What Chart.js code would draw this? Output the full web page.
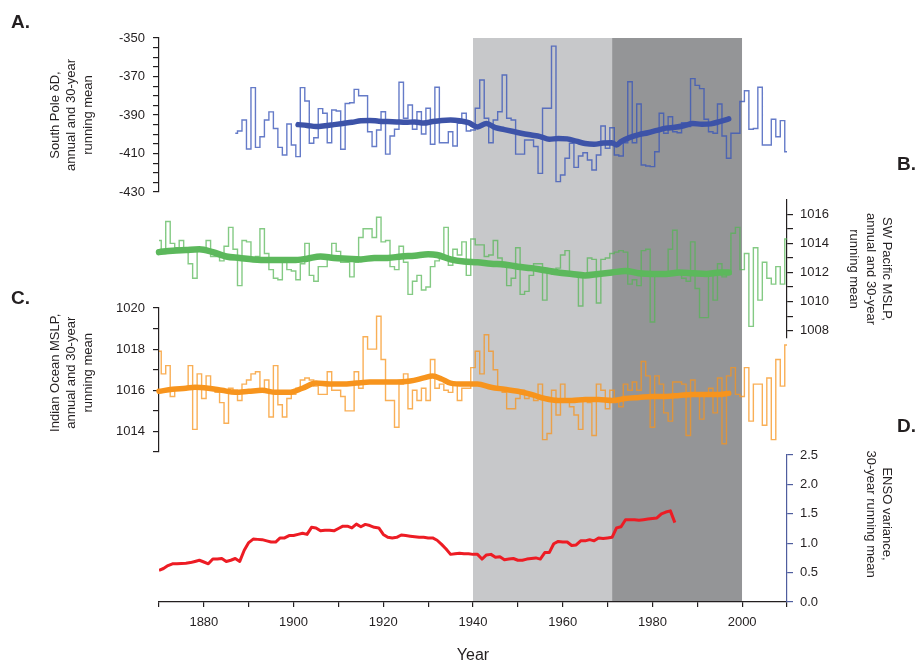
<!DOCTYPE html>
<html><head><meta charset="utf-8">
<script src="https://cdn.jsdelivr.net/npm/chart.js@4.4.1/dist/chart.umd.min.js"></script>
<style>
html,body{margin:0;padding:0;background:#fff;}
#wrap{position:relative;width:915px;height:668px;overflow:hidden;font-family:"Liberation Sans",Arial,sans-serif;}
canvas{position:absolute;left:0;top:0;}
.lbl{position:absolute;font-weight:bold;font-size:19px;line-height:19px;color:#231f20;font-family:"Liberation Sans",Arial,sans-serif;}
</style></head><body>
<div id="wrap">
<canvas id="cShade" width="915" height="668"></canvas>
<canvas id="cD" width="915" height="668"></canvas>
<canvas id="cC" width="915" height="668"></canvas>
<canvas id="cB" width="915" height="668"></canvas>
<canvas id="cA" width="915" height="668"></canvas>
<div class="lbl" style="left:11px;top:12px">A.</div>
<div class="lbl" style="left:897px;top:154px">B.</div>
<div class="lbl" style="left:11px;top:288px">C.</div>
<div class="lbl" style="left:897px;top:416px">D.</div>
</div>
<script>
// ---------- data ----------
const yearRange = [1870, 2010];
const shadeLight = [1940, 1971];
const shadeDark = [1971, 2000];

// A. South Pole dD, annual (from 1887)
const aStartYear = 1887;
const aAnnual = [-399.5,-398.3,-392.6,-407.7,-375.8,-406.8,-401.3,-392.6,-388.4,-397.0,
 -406.8,-410.8,-394.7,-405.6,-411.6,-375.8,-382.7,-404.7,-401.8,-386.7,
 -389.1,-404.4,-387.4,-387.9,-407.8,-384.0,-383.6,-376.7,-380.0,-380.0,
 -398.7,-406.4,-397.8,-388.3,-410.3,-400.9,-397.4,-373.0,-391.7,-384.8,
 -397.4,-388.3,-399.9,-386.5,-405.2,-375.6,-404.4,-404.4,-398.7,-406.1,
 -394.3,-389.1,-398.3,-397.8,-386.5,-371.8,-391.7,-404.4,-392.6,-388.3,
 -369.2,-391.7,-392.6,-410.3,-410.3,-403.0,-403.0,-406.4,-420.3,-386.5,
 -386.5,-354.2,-424.6,-421.2,-412.5,-404.7,-417.2,-411.3,-409.6,-413.4,
 -418.6,-410.8,-395.7,-407.3,-396.6,-410.8,-411.3,-404.4,-372.7,-404.4,
 -384.3,-416.0,-416.5,-416.8,-409.1,-389.1,-399.5,-390.9,-398.7,-399.2,
 -394.0,-396.0,-371.1,-374.6,-376.3,-392.2,-398.7,-399.5,-384.3,-400.9,
 -412.5,-399.5,-399.5,-383.0,-377.4,-397.4,-397.0,-375.6,-405.6,-405.6,
 -392.2,-401.3,-392.9,-409.1];
const aMeanYears = [1901,1903,1905,1907,1909,1911,1913,1915,1917,1919,1921,1923,1925,1927,1929,1931,1933,1935,1937,1939,1941,1943,1945,1947,1949,1951,1953,1955,1957,1959,1961,1963,1965,1967,1969,1971,1972,1973,1975,1977,1979,1981,1983,1985,1987,1989,1991,1993,1995,1997];
const aMean = [-395.0,-395.4,-396.0,-395.6,-395.0,-394.4,-393.8,-393.0,-392.8,-393.2,-393.4,-393.6,-393.8,-393.6,-394.2,-393.4,-392.8,-392.6,-393.0,-394.0,-396.2,-394.4,-396.6,-397.6,-398.6,-399.6,-400.4,-401.2,-402.6,-402.2,-402.4,-403.6,-404.8,-405.2,-404.6,-404.4,-405.6,-403.8,-401.6,-400.2,-399.2,-398.0,-396.8,-396.4,-395.6,-394.4,-394.8,-394.6,-393.4,-392.0];

// B. SW Pacific MSLP, annual (from 1870)
const bStartYear = 1870;
const bAnnual = [1014.2,1013.3,1015.5,1014.0,1013.7,1014.2,1013.4,1012.6,1011.6,1013.6,
 1013.6,1014.2,1013.1,1013.1,1012.8,1013.8,1015.1,1013.6,1011.1,1014.2,
 1014.1,1013.0,1013.1,1015.0,1013.3,1012.2,1011.6,1011.5,1012.7,1012.2,
 1012.1,1011.5,1012.6,1014.0,1011.8,1011.4,1012.4,1012.4,1013.0,1014.0,
 1013.45,1012.7,1012.7,1011.7,1012.7,1014.4,1015.0,1015.0,1014.4,1015.8,
 1014.1,1014.2,1012.4,1012.2,1013.8,1012.7,1010.5,1011.4,1011.8,1010.8,
 1011.0,1012.4,1012.8,1013.1,1015.1,1012.5,1013.6,1013.2,1014.1,1011.8,
 1014.3,1013.9,1013.9,1013.1,1013.2,1014.2,1013.0,1012.4,1011.1,1011.6,
 1013.7,1010.5,1010.7,1011.8,1012.6,1012.6,1010.1,1012.1,1011.9,1012.3,
 1013.2,1013.5,1011.9,1011.8,1009.7,1011.9,1013.0,1012.9,1009.9,1012.9,
 1013.0,1013.3,1013.4,1013.5,1013.4,1011.2,1011.5,1011.1,1013.5,1013.6,
 1008.6,1011.9,1011.9,1012.0,1013.6,1014.9,1011.9,1011.6,1011.4,1014.1,
 1010.9,1008.9,1008.9,1011.9,1010.1,1012.6,1011.7,1011.9,1014.7,1015.1,
 1012.2,1013.3,1008.3,1013.7,1010.1,1012.7,1011.6,1011.2,1012.4,1011.2,
 1014.3];
const bMeanYears = [1870,1873,1876,1879,1882,1885,1888,1891,1894,1897,1900,1903,1906,1909,1912,1915,1918,1921,1924,1927,1930,1932,1935,1938,1941,1944,1947,1950,1953,1956,1959,1962,1965,1968,1971,1974,1977,1980,1983,1986,1989,1992,1995,1997];
const bMean = [1013.4,1013.5,1013.55,1013.6,1013.4,1013.1,1013.0,1012.9,1012.85,1012.85,1012.85,1012.95,1013.1,1013.0,1012.95,1012.9,1013.0,1013.0,1013.1,1013.15,1013.25,1013.2,1012.9,1012.75,1012.7,1012.6,1012.55,1012.4,1012.3,1012.15,1012.0,1011.9,1011.8,1011.9,1012.0,1012.1,1011.95,1011.9,1011.9,1012.0,1011.95,1011.9,1012.0,1012.0];

// C. Indian Ocean MSLP, annual (from 1870)
const cStartYear = 1870;
const cAnnual = [1017.9,1016.8,1017.2,1015.7,1016.1,1016.1,1016.1,1017.2,1014.1,1016.8,
 1015.6,1016.7,1016.1,1015.9,1015.4,1014.4,1016.1,1016.0,1015.5,1016.3,
 1016.5,1016.8,1016.9,1016.0,1016.5,1014.7,1017.2,1015.3,1014.7,1015.6,
 1015.8,1016.1,1016.5,1016.6,1016.5,1016.2,1015.8,1015.8,1016.9,1016.0,
 1016.0,1015.7,1015.0,1015.0,1016.9,1016.1,1018.6,1018.0,1018.0,1019.6,
 1017.5,1015.5,1015.5,1014.2,1016.3,1016.8,1015.1,1016.0,1015.5,1016.1,
 1015.5,1017.5,1016.1,1016.3,1016.0,1015.9,1016.3,1015.5,1016.1,1016.1,
 1017.1,1017.9,1016.8,1018.7,1017.9,1017.0,1016.0,1015.9,1015.1,1015.1,
 1015.6,1016.0,1015.6,1015.7,1015.5,1016.3,1013.6,1013.9,1016.0,1014.8,
 1016.3,1015.5,1015.2,1014.8,1014.1,1015.5,1015.4,1013.8,1016.3,1016.0,
 1015.1,1016.0,1015.5,1015.2,1016.3,1016.0,1016.4,1016.0,1017.4,1016.7,
 1014.2,1016.7,1016.3,1014.9,1014.5,1016.4,1016.4,1016.3,1013.8,1016.5,
 1015.8,1014.6,1015.8,1016.1,1014.9,1016.6,1013.4,1016.7,1017.1,1015.8,
 1015.7,1017.1,1014.5,1016.3,1016.3,1014.3,1016.6,1013.6,1017.5,1016.2,
 1018.2];
const cMeanYears = [1870,1873,1876,1878,1881,1884,1887,1890,1893,1896,1899,1902,1905,1908,1911,1914,1917,1920,1923,1926,1929,1931,1933,1935,1938,1941,1944,1947,1950,1953,1956,1959,1962,1965,1968,1971,1974,1977,1980,1983,1986,1989,1992,1995,1997];
const cMean = [1015.95,1016.05,1016.1,1016.15,1016.1,1016.0,1015.9,1015.95,1016.0,1015.9,1015.9,1016.1,1016.35,1016.3,1016.3,1016.35,1016.4,1016.4,1016.4,1016.45,1016.6,1016.7,1016.55,1016.35,1016.3,1016.3,1016.15,1016.05,1015.95,1015.8,1015.6,1015.5,1015.5,1015.55,1015.55,1015.5,1015.6,1015.65,1015.7,1015.7,1015.75,1015.8,1015.8,1015.8,1015.85];

// D. ENSO variance, 30-year running mean (from 1870)
const dStartYear = 1870;
const dVar = [0.54,0.57,0.62,0.65,0.65,0.655,0.66,0.67,0.69,0.71,
 0.68,0.65,0.73,0.73,0.74,0.69,0.71,0.74,0.69,0.88,
 1.01,1.07,1.065,1.06,1.04,1.02,1.02,1.09,1.09,1.13,
 1.13,1.15,1.17,1.15,1.27,1.26,1.21,1.22,1.22,1.21,
 1.25,1.29,1.29,1.26,1.325,1.28,1.32,1.30,1.27,1.26,
 1.15,1.10,1.09,1.10,1.14,1.13,1.12,1.11,1.10,1.10,
 1.09,1.09,1.05,0.98,0.90,0.81,0.82,0.83,0.82,0.82,
 0.81,0.81,0.73,0.80,0.81,0.76,0.77,0.72,0.73,0.74,
 0.71,0.71,0.73,0.74,0.75,0.73,0.84,0.84,0.99,1.03,
 1.02,1.02,0.96,0.97,1.04,1.04,1.06,1.04,1.09,1.08,
 1.09,1.10,1.26,1.28,1.40,1.40,1.40,1.39,1.40,1.41,
 1.42,1.43,1.50,1.53,1.55,1.35];

// ---------- helpers ----------
const FONT = '"Liberation Sans", Arial, Helvetica, sans-serif';
const INK = '#231f20';
const W = 915, H = 668, AREA_L = 159, AREA_R = 787;
const series = (start, vals) => vals.map((v, i) => ({x: start + i, y: v}));
const pairs = (xs, ys) => xs.map((x, i) => ({x: x, y: ys[i]}));

function xHidden() {
  return {type: 'linear', min: yearRange[0], max: yearRange[1], display: false};
}
function yAxis(side, cfg) {
  return {
    type: 'linear', position: side, min: cfg.min, max: cfg.max,
    border: {display: true, color: cfg.axisColor || INK, width: 1.2},
    grid: {display: true, drawOnChartArea: false, drawTicks: true, tickLength: 6, color: cfg.axisColor || INK, lineWidth: 1.2},
    ticks: {stepSize: cfg.step, includeBounds: false, padding: side === 'left' ? 8 : 7, color: INK,
      font: {family: FONT, size: 13}, callback: cfg.label, autoSkip: false, maxRotation: 0},
    title: {display: true, text: cfg.title, color: INK, font: {family: FONT, size: 13, lineHeight: 1.3},
      padding: {top: side === 'left' ? 46.5 : 19.5, bottom: 0}},
    afterFit: s => { s.width = side === 'left' ? AREA_L : (W - AREA_R); s.paddingTop = 0; s.paddingBottom = 0; }
  };
}
function pad(side, top, bottom) {
  return side === 'left'
    ? {left: 0, right: W - AREA_R, top: top, bottom: H - bottom}
    : {left: AREA_L, right: 0, top: top, bottom: H - bottom};
}
const base = {responsive: false, animation: false, devicePixelRatio: 1, events: [],
  plugins: {legend: {display: false}, tooltip: {enabled: false}}};

function stepDs(data, color) {
  return {data: data, borderColor: color, borderWidth: 1.4, pointRadius: 0, stepped: 'middle', fill: false, clip: 8};
}
function meanDs(data, color, w) {
  return {data: data, borderColor: color, borderWidth: w, pointRadius: 0, tension: 0.4,
    cubicInterpolationMode: 'monotone', borderCapStyle: 'round', borderJoinStyle: 'round', fill: false, clip: 8};
}

// ---------- shading ----------
new Chart(document.getElementById('cShade'), {
  type: 'line',
  data: {datasets: [
    {data: [{x: shadeLight[0], y: 1}, {x: shadeLight[1], y: 1}], backgroundColor: '#c7c8ca', borderWidth: 0, pointRadius: 0, fill: 'origin'},
    {data: [{x: shadeDark[0], y: 1}, {x: shadeDark[1], y: 1}], backgroundColor: '#949597', borderWidth: 0, pointRadius: 0, fill: 'origin'}
  ]},
  options: Object.assign({}, base, {
    layout: {padding: {left: AREA_L, right: W - AREA_R, top: 38, bottom: H - 602}},
    scales: {x: xHidden(), y: {type: 'linear', min: 0, max: 1, display: false}}
  })
});

// ---------- A ----------
new Chart(document.getElementById('cA'), {
  type: 'line',
  data: {datasets: [
    meanDs(pairs(aMeanYears, aMean), '#3d53a8', 5.5),
    stepDs(series(aStartYear, aAnnual), 'rgba(58,86,184,0.78)')
  ]},
  options: Object.assign({}, base, {
    layout: {padding: pad('left', 38, 192)},
    scales: {x: xHidden(), y: yAxis('left', {min: -430, max: -350, step: 5,
      label: v => (Math.round(v) % 20 === -10 ? String(Math.round(v)) : ''),
      title: ['South Pole \u03b4D,', 'annual and 30-year', 'running mean']})}
  })
});

// ---------- B ----------
new Chart(document.getElementById('cB'), {
  type: 'line',
  data: {datasets: [
    meanDs(pairs(bMeanYears, bMean), '#5cb85c', 6.5),
    stepDs(series(bStartYear, bAnnual), 'rgba(84,182,84,0.72)')
  ]},
  options: Object.assign({}, base, {
    layout: {padding: pad('right', 200, 338)},
    scales: {x: xHidden(), y: yAxis('right', {min: 1007.5, max: 1016.98, step: 1,
      label: v => (Math.round(v) % 2 === 0 ? String(Math.round(v)) : ''),
      title: ['SW Pacific MSLP,', 'annual and 30-year', 'running mean']})}
  })
});

// ---------- C ----------
new Chart(document.getElementById('cC'), {
  type: 'line',
  data: {datasets: [
    meanDs(pairs(cMeanYears, cMean), '#f7941d', 5.5),
    stepDs(series(cStartYear, cAnnual), 'rgba(247,148,29,0.75)')
  ]},
  options: Object.assign({}, base, {
    layout: {padding: pad('left', 308, 452)},
    scales: {x: xHidden(), y: yAxis('left', {min: 1013, max: 1020, step: 1,
      label: v => (Math.round(v) % 2 === 0 ? String(Math.round(v)) : ''),
      title: ['    Indian Ocean MSLP,', '    annual and 30-year', '    running mean']})}
  })
});

// ---------- D (with shared year axis) ----------
const dY = yAxis('right', {min: 0, max: 2.5, step: 0.5, axisColor: '#4f5d9e',
  label: v => v.toFixed(1),
  title: ['ENSO variance,        ', '30-year running mean        ']});
new Chart(document.getElementById('cD'), {
  type: 'line',
  data: {datasets: [
    {data: series(dStartYear, dVar), borderColor: '#ed1c24', borderWidth: 3, pointRadius: 0, tension: 0, fill: false,
      borderJoinStyle: 'round', borderCapStyle: 'butt'}
  ]},
  options: Object.assign({}, base, {
    layout: {padding: {left: AREA_L, right: 0, top: 455, bottom: 0}},
    scales: {
      x: {type: 'linear', position: 'bottom', min: yearRange[0], max: yearRange[1],
        border: {display: true, color: INK, width: 1.2},
        grid: {display: true, drawOnChartArea: false, drawTicks: true, tickLength: 5, color: INK, lineWidth: 1.2},
        ticks: {stepSize: 10, padding: 8, color: INK, font: {family: FONT, size: 13}, autoSkip: false, maxRotation: 0,
          includeBounds: false, callback: v => (Math.round(v) % 20 === 0 ? String(Math.round(v)) : '')},
        title: {display: true, text: 'Year', color: INK, font: {family: FONT, size: 16}, padding: {top: 0, bottom: 2.5}},
        afterFit: s => { s.height = H - 602; s.paddingLeft = 0; s.paddingRight = 0; }
      },
      y: dY
    }
  })
});
</script>
</body></html>
